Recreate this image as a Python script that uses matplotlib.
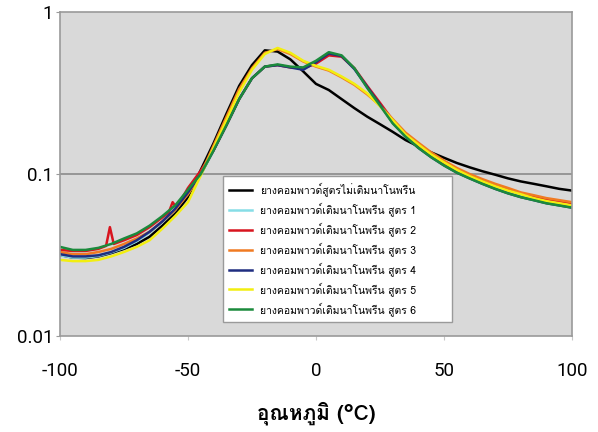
import matplotlib
matplotlib.use("Agg")
import matplotlib.pyplot as plt
from matplotlib import font_manager
from matplotlib.ft2font import FT2Font

# temperature axis (deg C)
temp = [-100, -95, -90, -85, -80, -75, -70, -65, -60, -55, -50, -45, -40, -35, -30,
        -25, -20, -15, -10, -5, 0, 5, 10, 15, 20, 25, 30, 35, 40, 45, 50,
        55, 60, 65, 70, 75, 80, 85, 90, 95, 100]

# compound without nano-filler (black)
base = [0.0316, 0.0305, 0.0303, 0.031, 0.0325, 0.0345, 0.037, 0.041, 0.048, 0.057, 0.072,
        0.106, 0.155, 0.235, 0.35, 0.47, 0.58, 0.57, 0.51, 0.43, 0.36, 0.33, 0.29,
        0.255, 0.226, 0.203, 0.182, 0.162, 0.148, 0.136, 0.126, 0.117, 0.11, 0.104,
        0.099, 0.094, 0.09, 0.087, 0.084, 0.081, 0.079]

f1 = [0.0315, 0.0305, 0.0305, 0.0312, 0.0328, 0.035, 0.0385, 0.0435, 0.0505, 0.06, 0.076,
      0.099, 0.14, 0.2, 0.29, 0.39, 0.46, 0.47, 0.455, 0.445, 0.49, 0.55, 0.535,
      0.445, 0.345, 0.27, 0.21, 0.172, 0.147, 0.129, 0.115, 0.104, 0.096, 0.089,
      0.083, 0.078, 0.074, 0.07, 0.067, 0.065, 0.063]

temp_f2 = [-100, -95, -90, -85, -82, -80.5, -79, -75, -70, -65, -60, -57.5, -56, -54.5,
           -50, -45, -40, -35, -30, -25, -20, -15, -10, -5, 0, 5, 10, 15, 20, 25, 30,
           35, 40, 45, 50, 55, 60, 65, 70, 75, 80, 85, 90, 95, 100]
f2 = [0.034, 0.0335, 0.0335, 0.0345, 0.036, 0.047, 0.037, 0.039, 0.042, 0.047, 0.054,
      0.058, 0.067, 0.062, 0.082, 0.105, 0.14, 0.2, 0.29, 0.39, 0.46, 0.47, 0.455,
      0.45, 0.48, 0.54, 0.53, 0.45, 0.35, 0.275, 0.215, 0.175, 0.15, 0.131, 0.117,
      0.106, 0.098, 0.091, 0.085, 0.08, 0.076, 0.073, 0.07, 0.068, 0.066]

f3 = [0.033, 0.032, 0.032, 0.033, 0.0345, 0.037, 0.04, 0.044, 0.051, 0.06, 0.075,
      0.1, 0.15, 0.225, 0.335, 0.45, 0.56, 0.59, 0.55, 0.495, 0.46, 0.435, 0.395,
      0.355, 0.31, 0.265, 0.218, 0.18, 0.156, 0.136, 0.121, 0.109, 0.1, 0.093,
      0.087, 0.082, 0.077, 0.074, 0.071, 0.069, 0.067]

f4 = [0.032, 0.031, 0.031, 0.0315, 0.033, 0.0355, 0.039, 0.044, 0.051, 0.061, 0.077,
      0.1, 0.14, 0.2, 0.29, 0.39, 0.46, 0.47, 0.455, 0.44, 0.49, 0.555, 0.535,
      0.445, 0.345, 0.268, 0.207, 0.17, 0.145, 0.127, 0.113, 0.102, 0.094, 0.087,
      0.081, 0.076, 0.072, 0.069, 0.066, 0.064, 0.062]

f5 = [0.0295, 0.029, 0.029, 0.0295, 0.031, 0.033, 0.0355, 0.039, 0.046, 0.055, 0.067,
      0.098, 0.145, 0.215, 0.32, 0.44, 0.55, 0.6, 0.56, 0.5, 0.465, 0.44, 0.4,
      0.36, 0.315, 0.262, 0.215, 0.175, 0.152, 0.132, 0.118, 0.106, 0.097, 0.09,
      0.084, 0.079, 0.075, 0.071, 0.068, 0.066, 0.064]

f6 = [0.0355, 0.034, 0.034, 0.035, 0.037, 0.04, 0.043, 0.048, 0.055, 0.064, 0.08,
      0.1, 0.14, 0.2, 0.29, 0.39, 0.46, 0.475, 0.46, 0.455, 0.5, 0.565, 0.54,
      0.45, 0.34, 0.265, 0.205, 0.17, 0.145, 0.127, 0.113, 0.102, 0.094, 0.087,
      0.081, 0.076, 0.072, 0.069, 0.066, 0.064, 0.062]

labels = ['ยางคอมพาวด์สูตรไม่เติมนาโนพรีน',
          'ยางคอมพาวด์เติมนาโนพรีน สูตร 1',
          'ยางคอมพาวด์เติมนาโนพรีน สูตร 2',
          'ยางคอมพาวด์เติมนาโนพรีน สูตร 3',
          'ยางคอมพาวด์เติมนาโนพรีน สูตร 4',
          'ยางคอมพาวด์เติมนาโนพรีน สูตร 5',
          'ยางคอมพาวด์เติมนาโนพรีน สูตร 6']
colors = ['#000000', '#86dde6', '#d8141e', '#f07a22', '#1f2d80', '#f2ee10', '#1b8a3c']


def find_thai_font():
    for f in font_manager.fontManager.ttflist:
        try:
            if 0x0E22 in FT2Font(f.fname).get_charmap():
                return f.name
        except Exception:
            pass
    return None


thai = find_thai_font()
fams = ([thai] if thai else []) + ['DejaVu Sans']
plt.rcParams['font.family'] = ['Roboto'] + fams
plt.rcParams['axes.unicode_minus'] = False

fig = plt.figure(figsize=(5.98, 4.32), dpi=100)
ax = fig.add_axes([0.1003, 0.2222, 0.8562, 0.75])
ax.set_facecolor('#d9d9d9')

series = [(temp, base), (temp, f1), (temp_f2, f2), (temp, f3), (temp, f4), (temp, f5), (temp, f6)]
for (xs, ys), c, lab in zip(series, colors, labels):
    ax.plot(xs, ys, color=c, lw=1.8, label=lab)

ax.set_yscale('log')
ax.set_xlim(-100, 100)
ax.set_ylim(0.01, 1)
ax.set_yticks([0.01, 0.1, 1])
ax.set_yticklabels(['0.01', '0.1', '1'])
ax.minorticks_off()
ax.set_xticks([-100, -50, 0, 50, 100])
ax.axhline(0.1, color='#8a8a8a', lw=1.2, zorder=0.5)
for s in ax.spines.values():
    s.set_color('#9a9a9a')
    s.set_linewidth(1.2)
ax.tick_params(axis='x', length=3, color='#c8c8c8', pad=16, labelsize=13.5)
ax.tick_params(axis='y', length=3, color='#9a9a9a', pad=2, labelsize=13.5)

ax.set_xlabel('อุณหภูมิ (°C)', fontsize=15, fontweight='bold', family=fams, labelpad=15)

leg = ax.legend(loc='lower left', bbox_to_anchor=(0.318, 0.043, 0.448, 0.45), mode='expand',
                prop={'family': fams, 'size': 7.5}, frameon=True, fancybox=False,
                handlelength=2.2, labelspacing=0.58, borderpad=0.6, borderaxespad=0)
leg.get_frame().set_edgecolor('#9a9a9a')
leg.get_frame().set_facecolor('white')
leg.get_frame().set_alpha(1)

fig.savefig('out.png', dpi=100)
